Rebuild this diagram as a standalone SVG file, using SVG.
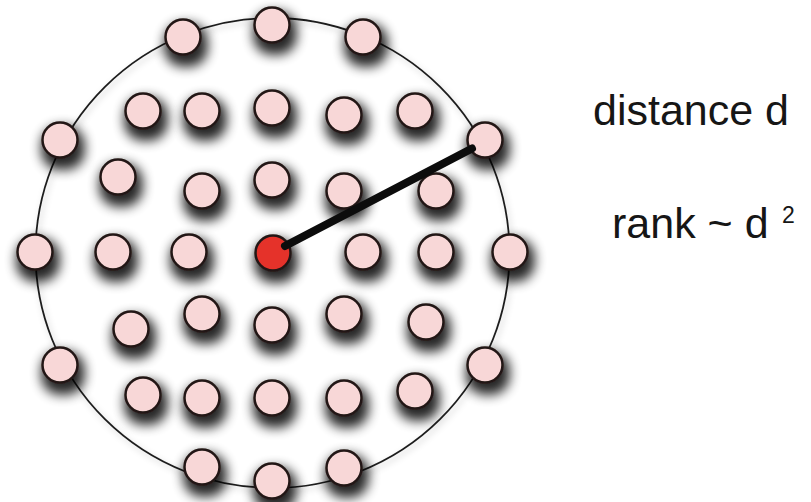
<svg xmlns="http://www.w3.org/2000/svg" width="811" height="502" viewBox="0 0 811 502">
<style>
.dot{fill:#f8d7d7;stroke:#231815;stroke-width:2.5;filter:url(#sh)}
.red{fill:#e5302a;stroke:#231815;stroke-width:2.5;filter:url(#sh)}
.ring{fill:none;stroke:#1e1e1e;stroke-width:1.8;filter:url(#sh2)}
.lbl{font-family:"Liberation Sans",Arial,Helvetica,sans-serif;fill:#161616}
.edge{stroke:#0c0c0c;stroke-width:8;stroke-linecap:round;fill:none}
</style>
<defs>
<filter id="sh" x="-100%" y="-100%" width="300%" height="320%">
<feMorphology in="SourceAlpha" operator="dilate" radius="3" result="d"/>
<feOffset in="d" dx="3" dy="8" result="o"/>
<feGaussianBlur in="o" stdDeviation="6" result="b"/>
<feComponentTransfer in="b" result="s"><feFuncA type="linear" slope="0.85"/></feComponentTransfer>
<feMerge><feMergeNode in="s"/><feMergeNode in="SourceGraphic"/></feMerge>
</filter>
<filter id="sh2" x="-10%" y="-10%" width="120%" height="120%">
<feDropShadow dx="2" dy="3" stdDeviation="3" flood-color="#000" flood-opacity="0.22"/>
</filter>
</defs>
<rect width="811" height="502" fill="#ffffff"/>
<g id="boundary"><ellipse class="ring" cx="272.5" cy="253" rx="237" ry="235"/></g>
<g id="ring-nodes">
<g id="r1"><circle class="dot" cx="272" cy="25" r="17.5"/></g>
<g id="r2"><circle class="dot" cx="183" cy="37" r="17.5"/></g>
<g id="r3"><circle class="dot" cx="363" cy="37" r="17.5"/></g>
<g id="r4"><circle class="dot" cx="60" cy="140" r="17.5"/></g>
<g id="r5"><circle class="dot" cx="485" cy="140" r="17.5"/></g>
<g id="r6"><circle class="dot" cx="35" cy="252" r="17.5"/></g>
<g id="r7"><circle class="dot" cx="510" cy="252" r="17.5"/></g>
<g id="r8"><circle class="dot" cx="60" cy="365" r="17.5"/></g>
<g id="r9"><circle class="dot" cx="485" cy="365" r="17.5"/></g>
<g id="r10"><circle class="dot" cx="202" cy="467" r="17.5"/></g>
<g id="r11"><circle class="dot" cx="272" cy="481" r="17.5"/></g>
<g id="r12"><circle class="dot" cx="344" cy="468" r="17.5"/></g>
</g>
<g id="inner-nodes">
<g id="a1"><circle class="dot" cx="143" cy="111" r="17.5"/></g>
<g id="a2"><circle class="dot" cx="202" cy="111" r="17.5"/></g>
<g id="a3"><circle class="dot" cx="272" cy="108" r="17.5"/></g>
<g id="a4"><circle class="dot" cx="344" cy="115" r="17.5"/></g>
<g id="a5"><circle class="dot" cx="415" cy="111" r="17.5"/></g>
<g id="b1"><circle class="dot" cx="118" cy="177" r="17.5"/></g>
<g id="b2"><circle class="dot" cx="202" cy="191" r="17.5"/></g>
<g id="b3"><circle class="dot" cx="272" cy="180" r="17.5"/></g>
<g id="b4"><circle class="dot" cx="344" cy="191" r="17.5"/></g>
<g id="b5"><circle class="dot" cx="436" cy="191" r="17.5"/></g>
<g id="c1"><circle class="dot" cx="113" cy="252" r="17.5"/></g>
<g id="c2"><circle class="dot" cx="189" cy="252" r="17.5"/></g>
<g id="c4"><circle class="dot" cx="363" cy="252" r="17.5"/></g>
<g id="c5"><circle class="dot" cx="436" cy="252" r="17.5"/></g>
<g id="d1"><circle class="dot" cx="131" cy="329" r="17.5"/></g>
<g id="d2"><circle class="dot" cx="202" cy="314" r="17.5"/></g>
<g id="d3"><circle class="dot" cx="272" cy="325" r="17.5"/></g>
<g id="d4"><circle class="dot" cx="344" cy="314" r="17.5"/></g>
<g id="d5"><circle class="dot" cx="426" cy="322" r="17.5"/></g>
<g id="e1"><circle class="dot" cx="143" cy="395" r="17.5"/></g>
<g id="e2"><circle class="dot" cx="202" cy="398" r="17.5"/></g>
<g id="e3"><circle class="dot" cx="272" cy="398" r="17.5"/></g>
<g id="e4"><circle class="dot" cx="344" cy="398" r="17.5"/></g>
<g id="e5"><circle class="dot" cx="415" cy="391" r="17.5"/></g>
</g>
<g id="center"><circle class="red" cx="273" cy="253" r="17.5"/></g>
<g id="connectors">
<line class="edge" x1="285" y1="246" x2="472" y2="148.5"/>
</g>
<g id="labels">
<text class="lbl" x="593" y="125" font-size="43">distance d</text>
<text class="lbl" x="612" y="238" font-size="43">rank ~ d</text>
<text class="lbl" x="782" y="223" font-size="23">2</text>
</g>
</svg>
